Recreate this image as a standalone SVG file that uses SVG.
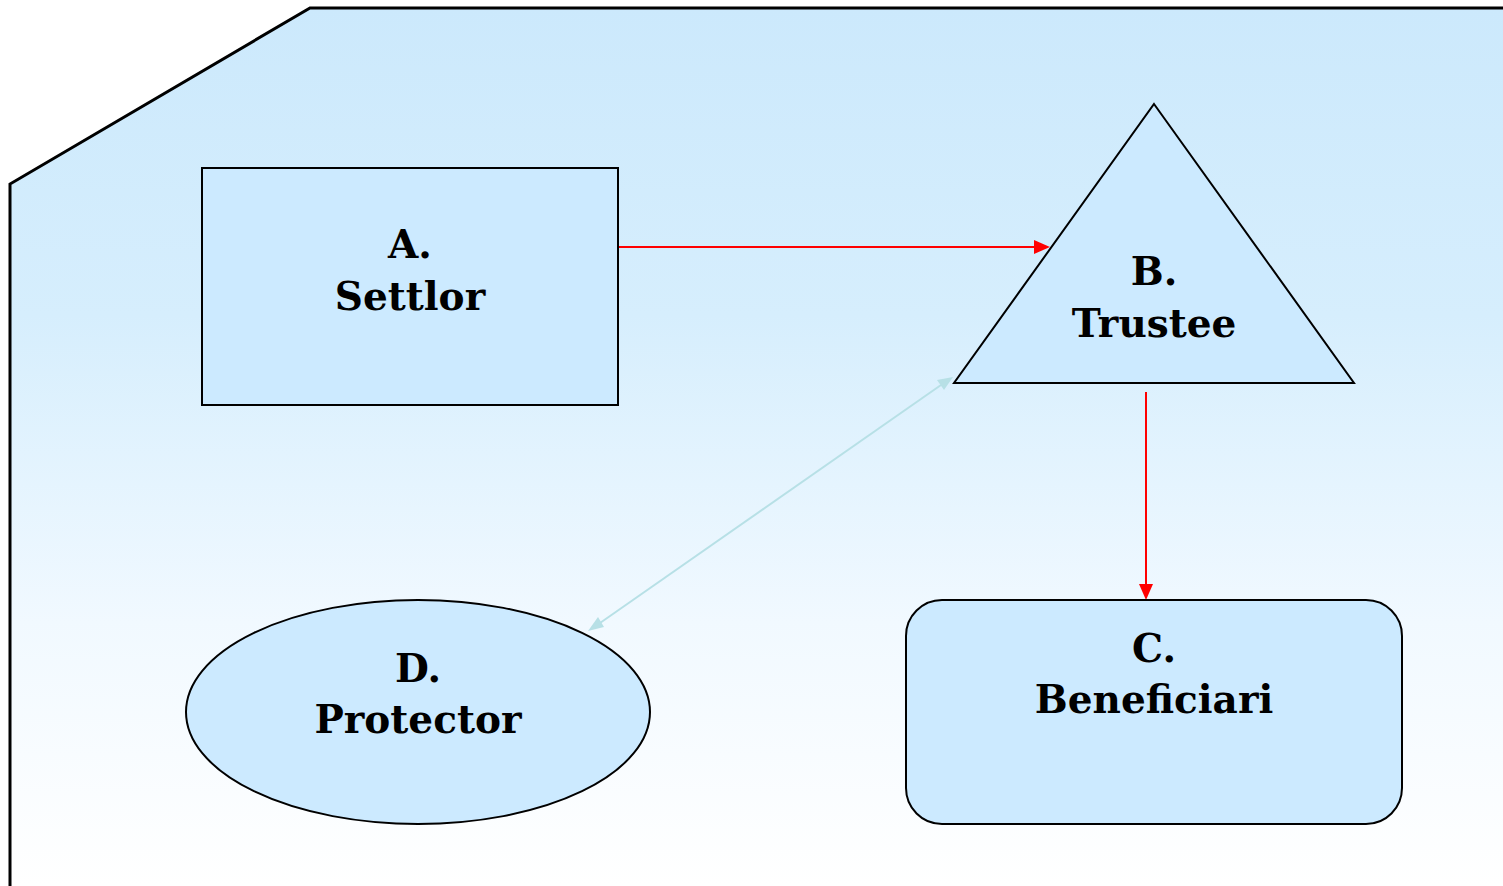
<svg xmlns="http://www.w3.org/2000/svg" width="1503" height="886" viewBox="0 0 1503 886">
<defs>
<linearGradient id="bg" x1="0" y1="8" x2="0" y2="886" gradientUnits="userSpaceOnUse">
<stop offset="0" stop-color="#cce9fc"/>
<stop offset="0.35" stop-color="#d6eefd"/>
<stop offset="0.7" stop-color="#f1f9ff"/>
<stop offset="1" stop-color="#ffffff"/>
</linearGradient>
<style>
.node{fill:#cceaff;stroke:#000;stroke-width:2}
.lbl{font-family:"DejaVu Serif","Liberation Serif",serif;font-weight:bold;font-size:39px;fill:#000;text-anchor:middle}
.red{stroke:#ff0000;stroke-width:2;fill:none}
.redhead{fill:#ff0000}
.blue{stroke:#b7e0e6;stroke-width:2;fill:none}
.bluehead{fill:#b7e0e6}
</style>
</defs>
<polygon points="10,892 10,184 310,8 1510,8 1510,892" fill="url(#bg)" stroke="#000" stroke-width="3"/>
<g id="connectors">
<line class="red" x1="618" y1="247" x2="1036" y2="247"/>
<path class="redhead" d="M1034,240 L1050,247 L1034,254 z"/>
<line class="red" x1="1146" y1="392" x2="1146" y2="586"/>
<path class="redhead" d="M1139,584 L1146,600 L1153,584 z"/>
<line class="blue" x1="941" y1="385" x2="600" y2="623"/>
<path class="bluehead" d="M953,377 L937,380 L944,390 z"/>
<path class="bluehead" d="M588,631 L598,617 L604,627 z"/>
</g>
<g id="nodeA">
<rect class="node" x="202" y="168" width="416" height="237"/>
<text class="lbl" x="410" y="258">A.</text>
<text class="lbl" x="410" y="310">Settlor</text>
</g>
<g id="nodeB">
<polygon class="node" points="1154,104 1354,383 954,383"/>
<text class="lbl" x="1154" y="285">B.</text>
<text class="lbl" x="1154" y="337">Trustee</text>
</g>
<g id="nodeC">
<rect class="node" x="906" y="600" width="496" height="224" rx="36" ry="36"/>
<text class="lbl" x="1154" y="662">C.</text>
<text class="lbl" x="1154" y="713">Beneficiari</text>
</g>
<g id="nodeD">
<ellipse class="node" cx="418" cy="712" rx="232" ry="112"/>
<text class="lbl" x="418" y="682">D.</text>
<text class="lbl" x="418" y="733">Protector</text>
</g>
</svg>
